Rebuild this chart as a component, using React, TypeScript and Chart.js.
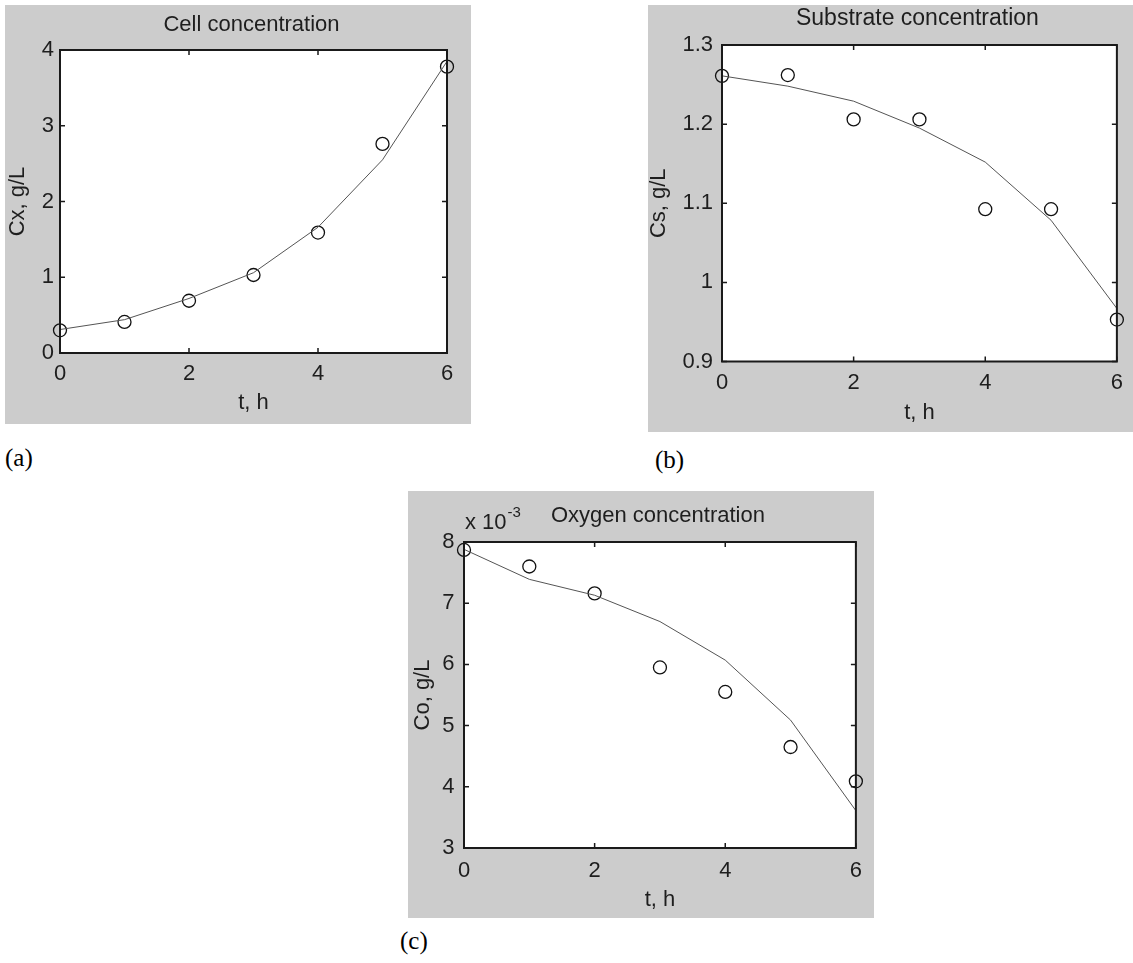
import React, { useEffect, useRef } from "react";
import { Chart, registerables } from "chart.js";

Chart.register(...registerables);

// ---------- data ----------
const timeH = [0, 1, 2, 3, 4, 5, 6];
const xTickValues = [0, 2, 4, 6];

const cellMeasured = [0.30, 0.41, 0.69, 1.03, 1.59, 2.76, 3.78];
const cellModel = [0.31, 0.44, 0.72, 1.06, 1.66, 2.55, 3.85];
const cellTicks = [0, 1, 2, 3, 4];

const substrateMeasured = [1.261, 1.262, 1.206, 1.206, 1.0925, 1.0925, 0.953];
const substrateModel = [1.261, 1.248, 1.229, 1.195, 1.152, 1.0785, 0.967];
const substrateTicks = [0.9, 1.0, 1.1, 1.2, 1.3];

const oxygenMeasured = [7.87e-3, 7.60e-3, 7.16e-3, 5.95e-3, 5.55e-3, 4.65e-3, 4.09e-3];
const oxygenModel = [7.88e-3, 7.39e-3, 7.13e-3, 6.70e-3, 6.07e-3, 5.09e-3, 3.61e-3];
const oxygenTicks = [3e-3, 4e-3, 5e-3, 6e-3, 7e-3, 8e-3];

// ---------- styling ----------
const SANS = '"Liberation Sans", Arial, Helvetica, sans-serif';
const TEXT = "#1e1e1e";
const GRAY = "#cccccc";

interface PanelCfg {
  left: number; top: number; width: number; height: number;
  plotLeft: number; plotTop: number; padRight: number; xHeight: number;
  title: string; titleY: number; titleSize: number;
  yTitle: string; yTitlePad: number; xTitlePad: number;
  xTickPad: number; yTickPad: number;
  yMin: number; yMax: number; yTicks: number[];
  yFormat: (v: number) => string;
  measured: number[]; model: number[];
  multiplier?: boolean;
}

const panels: PanelCfg[] = [
  {
    left: 5, top: 5, width: 466, height: 419,
    plotLeft: 55, plotTop: 45, padRight: 24, xHeight: 71,
    title: "Cell concentration", titleY: 20, titleSize: 22,
    yTitle: "Cx, g/L", yTitlePad: 2, xTitlePad: 10,
    xTickPad: 10, yTickPad: 6,
    yMin: 0, yMax: 4, yTicks: cellTicks,
    yFormat: (v) => String(v),
    measured: cellMeasured, model: cellModel,
  },
  {
    left: 648, top: 5, width: 485, height: 427,
    plotLeft: 74, plotTop: 40, padRight: 8, xHeight: 70.5,
    title: "Substrate concentration", titleY: 14, titleSize: 23,
    yTitle: "Cs, g/L", yTitlePad: 0, xTitlePad: 8,
    xTickPad: 10, yTickPad: 9,
    yMin: 0.9, yMax: 1.3, yTicks: substrateTicks,
    yFormat: (v) => String(parseFloat(v.toFixed(1))),
    measured: substrateMeasured, model: substrateModel,
  },
  {
    left: 408, top: 491, width: 466, height: 427,
    plotLeft: 56, plotTop: 51, padRight: 18, xHeight: 70,
    title: "Oxygen concentration", titleY: 25, titleSize: 22,
    yTitle: "Co, g/L", yTitlePad: 3.5, xTitlePad: 7,
    xTickPad: 12, yTickPad: 9.5,
    yMin: 3e-3, yMax: 8e-3, yTicks: oxygenTicks,
    yFormat: (v) => String(Math.round(v * 1000)),
    measured: oxygenMeasured, model: oxygenModel,
    multiplier: true,
  },
];

function makeFramePlugin(cfg: PanelCfg) {
  return {
    id: "matlabFrame",
    beforeDraw(chart: any) {
      const { ctx, chartArea: a } = chart;
      ctx.save();
      ctx.fillStyle = "#ffffff";
      ctx.fillRect(a.left, a.top, a.right - a.left, a.bottom - a.top);
      ctx.restore();
    },
    afterDraw(chart: any) {
      const { ctx, chartArea: a, scales } = chart;
      ctx.save();
      ctx.strokeStyle = "#1a1a1a";
      ctx.lineWidth = 2;
      ctx.strokeRect(a.left, a.top, a.right - a.left, a.bottom - a.top);
      ctx.lineWidth = 1.5;
      const tl = 5;
      ctx.beginPath();
      for (const v of xTickValues) {
        const px = scales.x.getPixelForValue(v);
        ctx.moveTo(px, a.bottom); ctx.lineTo(px, a.bottom - tl);
        ctx.moveTo(px, a.top); ctx.lineTo(px, a.top + tl);
      }
      for (const v of cfg.yTicks) {
        const py = scales.y.getPixelForValue(v);
        ctx.moveTo(a.left, py); ctx.lineTo(a.left + tl, py);
        ctx.moveTo(a.right, py); ctx.lineTo(a.right - tl, py);
      }
      ctx.stroke();

      // title
      ctx.fillStyle = TEXT;
      ctx.font = `${cfg.titleSize}px ${SANS}`;
      ctx.textAlign = "center";
      ctx.textBaseline = "middle";
      ctx.fillText(cfg.title, (a.left + a.right) / 2 - 2, cfg.titleY);

      if (cfg.multiplier) {
        ctx.textAlign = "left";
        ctx.font = `22px ${SANS}`;
        const base = "x 10";
        const x0 = a.left + 1;
        ctx.fillText(base, x0, 32);
        const w = ctx.measureText(base).width;
        ctx.font = `15px ${SANS}`;
        ctx.fillText("-3", x0 + w + 1, 22);
      }
      ctx.restore();
    },
  };
}

function Panel({ cfg }: { cfg: PanelCfg }) {
  const ref = useRef<HTMLCanvasElement>(null);
  useEffect(() => {
    const canvas = ref.current!;
    const font = { family: SANS, size: 22, lineHeight: 1 };
    const chart = new Chart(canvas, {
      type: "scatter",
      data: {
        datasets: [
          {
            label: "model",
            data: timeH.map((t, i) => ({ x: t, y: cfg.model[i] })),
            showLine: true,
            borderColor: "#555555",
            borderWidth: 1,
            pointRadius: 0,
            pointHoverRadius: 0,
            clip: false as any,
          },
          {
            label: "measured",
            data: timeH.map((t, i) => ({ x: t, y: cfg.measured[i] })),
            showLine: false,
            pointStyle: "circle",
            pointRadius: 6.5,
            pointHoverRadius: 6.5,
            borderColor: "#111111",
            borderWidth: 1.3,
            backgroundColor: "rgba(0,0,0,0)",
            clip: false as any,
          },
        ],
      },
      options: {
        responsive: false,
        animation: false,
        devicePixelRatio: 1,
        events: [],
        layout: { padding: { top: cfg.plotTop, right: cfg.padRight, left: 0, bottom: 0 } },
        plugins: {
          legend: { display: false },
          tooltip: { enabled: false },
          title: { display: false },
        },
        scales: {
          x: {
            type: "linear",
            min: 0,
            max: 6,
            grid: { display: false, drawTicks: false },
            border: { display: false },
            afterBuildTicks: (s: any) => { s.ticks = xTickValues.map((v) => ({ value: v })); },
            afterFit: (s: any) => { s.height = cfg.xHeight; },
            ticks: {
              font, color: TEXT, padding: cfg.xTickPad, maxRotation: 0, autoSkip: false,
              callback: (v: any) => String(v),
            },
            title: {
              display: true, text: "t, h", font, color: TEXT,
              padding: { top: 0, bottom: cfg.xTitlePad },
            },
          },
          y: {
            type: "linear",
            min: cfg.yMin,
            max: cfg.yMax,
            grid: { display: false, drawTicks: false },
            border: { display: false },
            afterBuildTicks: (s: any) => { s.ticks = cfg.yTicks.map((v) => ({ value: v })); },
            afterFit: (s: any) => { s.width = cfg.plotLeft; },
            ticks: {
              font, color: TEXT, padding: cfg.yTickPad, autoSkip: false,
              callback: (v: any) => cfg.yFormat(Number(v)),
            },
            title: {
              display: true, text: cfg.yTitle, font, color: TEXT,
              padding: { top: cfg.yTitlePad, bottom: 0 },
            },
          },
        },
      } as any,
      plugins: [makeFramePlugin(cfg)],
    });
    return () => chart.destroy();
  }, [cfg]);
  return (
    <canvas
      ref={ref}
      width={cfg.width}
      height={cfg.height}
      style={{
        position: "absolute",
        left: cfg.left,
        top: cfg.top,
        width: cfg.width,
        height: cfg.height,
        background: GRAY,
      }}
    />
  );
}

const captionStyle: React.CSSProperties = {
  position: "absolute",
  fontFamily: '"Liberation Serif", "Times New Roman", Times, serif',
  fontSize: 25,
  lineHeight: 1,
  color: "#000",
  whiteSpace: "nowrap",
};

export default function App() {
  return (
    <div
      style={{
        position: "absolute",
        left: 0,
        top: 0,
        width: 1133,
        height: 963,
        background: "#ffffff",
        overflow: "hidden",
      }}
    >
      {panels.map((p, i) => (
        <Panel key={i} cfg={p} />
      ))}
      <div style={{ ...captionStyle, left: 5, top: 445 }}>(a)</div>
      <div style={{ ...captionStyle, left: 655, top: 447 }}>(b)</div>
      <div style={{ ...captionStyle, left: 400, top: 928 }}>(c)</div>
    </div>
  );
}
